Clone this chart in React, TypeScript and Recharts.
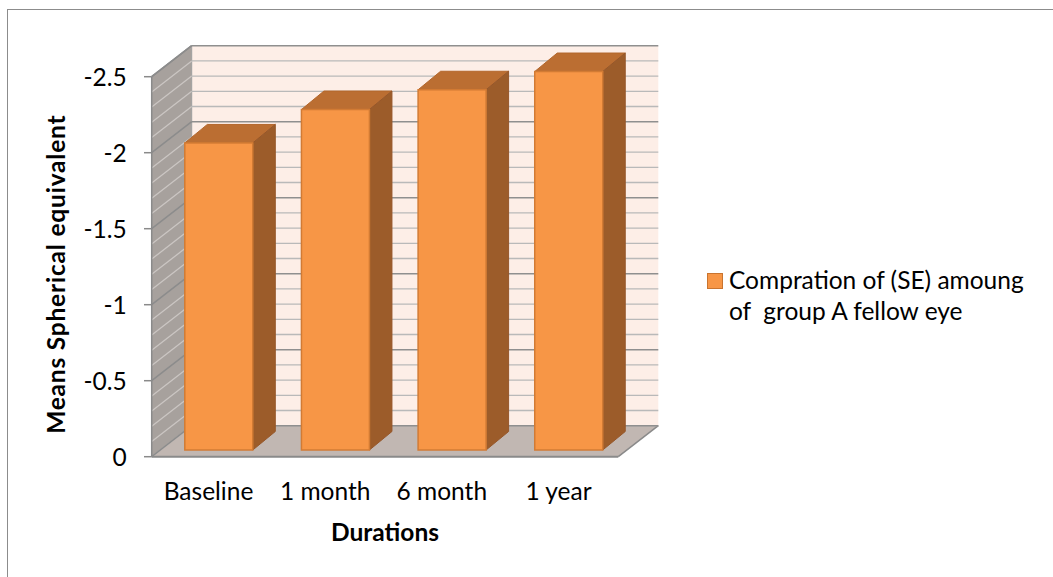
import React from 'react';
import {
  BarChart,
  Bar,
  XAxis,
  YAxis,
  ReferenceArea,
  ReferenceLine,
  Legend,
  Label,
} from 'recharts';

// ---- data ----
const durations = ['Baseline', '1 month', '6 month', '1 year'];
const meanSE = [-2.02, -2.24, -2.37, -2.49];
const yTicks = [0, -0.5, -1, -1.5, -2, -2.5];
const minorTicks = [
  0, -0.1, -0.2, -0.3, -0.4, -0.6, -0.7, -0.8, -0.9, -1.1, -1.2, -1.3, -1.4,
  -1.6, -1.7, -1.8, -1.9, -2.1, -2.2, -2.3, -2.4,
];
const seriesLines = ['Compration of (SE) amoung', 'of  group A fellow eye'];
const yTitle = 'Means Spherical equivalent';
const xTitle = 'Durations';

const data = durations.map((d, i) => ({ duration: d, se: meanSE[i] }));

// ---- look ----
const W = 1053;
const H = 577;
const FONT = 'Lato, "Open Sans", sans-serif';
const FS = 24.5;
const WALL = { dx: 40, dy: -31 };
const BAR_FRONT = { dx: 8.6, dy: -6.7 };
const BAR_DEPTH = { dx: 22.5, dy: -18.5 };
const AXIS_GRAY = '#8a8a8a';

// side wall, back wall and floor of the 3-D box
function Walls(props: any) {
  const { x, y, width, height } = props;
  const top = Math.min(y, y + height);
  const h = Math.abs(height);
  const w = width;
  const bottom = top + h;
  const { dx, dy } = WALL;
  return (
    <g>
      <polygon
        points={`${x},${bottom} ${x},${top} ${x + dx},${top + dy} ${x + dx},${bottom + dy}`}
        fill="#a7a19d"
      />
      <rect x={x + dx} y={top + dy} width={w} height={h} fill="#fdeee7" />
      <polygon
        points={`${x},${bottom} ${x + w},${bottom} ${x + w + dx},${bottom + dy} ${x + dx},${bottom + dy}`}
        fill="#c1b7b2"
      />
      <line x1={x} y1={top} x2={x + dx} y2={top + dy} stroke={AXIS_GRAY} strokeWidth={1.5} />
      <line x1={x + dx} y1={top + dy} x2={x + dx} y2={bottom + dy} stroke="#9a9a9a" strokeWidth={1} />
      <line x1={x + w} y1={bottom} x2={x + w + dx} y2={bottom + dy} stroke={AXIS_GRAY} strokeWidth={1.5} />
    </g>
  );
}

// a gridline runs diagonally across the side wall, then along the back wall
function makeGridShape(major: boolean) {
  return (props: any) => {
    const { x1, y1, x2 } = props;
    const { dx, dy } = WALL;
    return (
      <g>
        <line
          x1={x1}
          y1={y1}
          x2={x1 + dx}
          y2={y1 + dy}
          stroke={major ? '#8c8c8c' : '#cbc6c3'}
          strokeWidth={major ? 1.5 : 1.3}
        />
        <line
          x1={x1 + dx}
          y1={y1 + dy}
          x2={x2 + dx}
          y2={y1 + dy}
          stroke={major ? '#8f8f8f' : '#b9b9b9'}
          strokeWidth={major ? 1.5 : 1.3}
        />
      </g>
    );
  };
}
const MajorGrid = makeGridShape(true);
const MinorGrid = makeGridShape(false);

// a bar drawn as a box: front, top and right faces
function Box3D(props: any) {
  const { x, y, width, height } = props;
  const top = Math.min(y, y + height);
  const h = Math.abs(height);
  const fx = x + BAR_FRONT.dx;
  const fy = top + BAR_FRONT.dy;
  const { dx, dy } = BAR_DEPTH;
  const w = width;
  return (
    <g>
      <polygon
        points={`${fx},${fy} ${fx + w},${fy} ${fx + w + dx},${fy + dy} ${fx + dx},${fy + dy}`}
        fill="#bb6e32"
        stroke="#b3672c"
        strokeWidth={1}
      />
      <polygon
        points={`${fx + w},${fy} ${fx + w + dx},${fy + dy} ${fx + w + dx},${fy + h + dy} ${fx + w},${fy + h}`}
        fill="#9c5c2a"
        stroke="#96572a"
        strokeWidth={1}
      />
      <rect x={fx} y={fy} width={w} height={h} fill="#f79646" stroke="#d27b34" strokeWidth={1.5} />
    </g>
  );
}

function CategoryTick(props: any) {
  const { x, y, payload } = props;
  return (
    <text x={x - 1.5} y={y + 42.8} textAnchor="middle" fontFamily={FONT} fontSize={FS} fill="#000">
      {payload.value}
    </text>
  );
}

function ValueTick(props: any) {
  const { x, y, payload } = props;
  return (
    <text x={x} y={y + 9} textAnchor="end" fontFamily={FONT} fontSize={FS} fill="#000">
      {payload.value}
    </text>
  );
}

function XTitle(props: any) {
  const vb = props.viewBox || {};
  return (
    <text
      x={vb.x + vb.width / 2}
      y={vb.y + 83.8}
      textAnchor="middle"
      fontFamily={FONT}
      fontSize={FS}
      fontWeight="bold"
      fill="#000"
    >
      {xTitle}
    </text>
  );
}

function YTitle(props: any) {
  const vb = props.viewBox || {};
  const cx = vb.x + 65;
  const cy = vb.y + vb.height / 2 + 7.5;
  return (
    <text
      x={cx}
      y={cy}
      transform={`rotate(-90 ${cx} ${cy})`}
      textAnchor="middle"
      fontFamily={FONT}
      fontSize={FS}
      fontWeight="bold"
      letterSpacing={0.8}
      fill="#000"
    >
      {yTitle}
    </text>
  );
}

function LegendBox(props: any) {
  const item = props.payload && props.payload[0];
  if (!item) return null;
  const lines = String(item.value).split('\n');
  return (
    <div
      style={{
        position: 'relative',
        fontFamily: FONT,
        fontSize: FS,
        lineHeight: '31.5px',
        color: '#000',
        whiteSpace: 'pre',
      }}
    >
      <span
        style={{
          position: 'absolute',
          left: 0,
          top: 9.5,
          width: 14,
          height: 14,
          background: item.color,
          border: '1px solid #c9742f',
        }}
      />
      {lines.map((l, i) => (
        <div key={i} style={{ paddingLeft: 22 }}>
          {l}
        </div>
      ))}
    </div>
  );
}

export default function App() {
  return (
    <div
      style={{
        position: 'absolute',
        left: 0,
        top: 0,
        width: W,
        height: H,
        overflow: 'hidden',
        background: '#fff',
      }}
    >
      <div
        style={{
          position: 'absolute',
          left: 7,
          top: 9,
          width: 1200,
          height: 800,
          borderLeft: '1.5px solid #8c8c8c',
          borderTop: '1.5px solid #8c8c8c',
        }}
      />
      <div style={{ position: 'absolute', left: 0, top: 0 }}>
        <BarChart
          width={W}
          height={H}
          data={data}
          margin={{ top: 76.7, right: 434.7, bottom: 0, left: 0 }}
          barCategoryGap="21%"
        >
          <ReferenceArea y1={-2.5} y2={0} shape={Walls} ifOverflow="visible" zIndex={101} />
          {minorTicks.map((v) => (
            <ReferenceLine key={`mi${v}`} y={v} shape={MinorGrid} ifOverflow="visible" zIndex={102} />
          ))}
          {yTicks.map((v) => (
            <ReferenceLine key={`ma${v}`} y={v} shape={MajorGrid} ifOverflow="visible" zIndex={103} />
          ))}
          <Bar
            dataKey="se"
            name={seriesLines.join('\n')}
            fill="#f79646"
            shape={Box3D}
            isAnimationActive={false}
          />
          <XAxis
            dataKey="duration"
            height={120.3}
            tickLine={false}
            tickSize={0}
            tickMargin={0}
            axisLine={{ stroke: AXIS_GRAY, strokeWidth: 2 }}
            tick={CategoryTick}
            interval={0}
          >
            <Label content={XTitle} />
          </XAxis>
          <YAxis
            width={151.7}
            domain={[-2.5, 0]}
            reversed
            ticks={yTicks}
            tickSize={7.7}
            tickMargin={17.3}
            axisLine={{ stroke: AXIS_GRAY, strokeWidth: 1.5 }}
            tickLine={{ stroke: AXIS_GRAY, strokeWidth: 1.5 }}
            tick={ValueTick}
            interval={0}
          >
            <Label content={YTitle} />
          </YAxis>
          <Legend
            align="center"
            verticalAlign="middle"
            content={LegendBox}
            wrapperStyle={{ left: 707, top: 263.8, width: 346 }}
          />
        </BarChart>
      </div>
    </div>
  );
}
